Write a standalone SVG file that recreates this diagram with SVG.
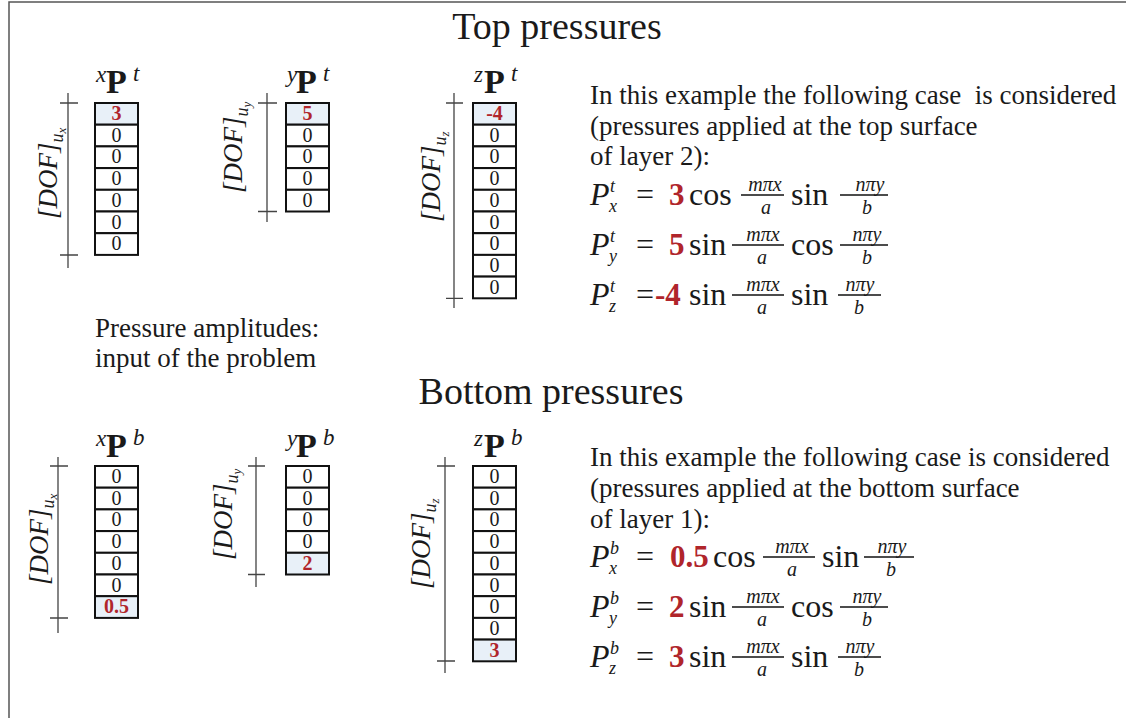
<svg xmlns="http://www.w3.org/2000/svg" width="1126" height="718" viewBox="0 0 1126 718">
<style>
.t{font-family:"Liberation Serif","Times New Roman",serif;fill:#1a1a1a}
.cell{fill:#fff;stroke:#111;stroke-width:2}
.hl{fill:#e8f0f8}
.cv{font-size:20px;text-anchor:middle}
.cvr{font-size:20px;font-weight:bold;fill:#b0252b;text-anchor:middle}
.ax{stroke:#444;stroke-width:1.3;fill:none}
.dof{font-size:27px;font-style:italic}
.dsub{font-size:18px}
.dsub2{font-size:13px}
.hP{font-size:34px;font-weight:bold}
.hs{font-size:23px;font-style:italic}
.body{font-size:27px}
.title{font-size:38px;text-anchor:middle}
.eqP{font-size:32px;font-style:italic}
.eqs{font-size:18px;font-style:italic}
.eq{font-size:32px}
.eqn{font-size:31px;font-weight:bold;fill:#b0252b}
.fr{font-size:20px;font-style:italic;text-anchor:middle}
.bar{stroke:#111;stroke-width:1.5}
.frame{stroke:#555;stroke-width:1.5;fill:none}
</style>
<path class="frame" d="M9,718 V2 H1126"/>
<text class="t title" x="557" y="39">Top pressures</text>
<text class="t title" x="551" y="404">Bottom pressures</text>
<text class="t body" x="95" y="337">Pressure amplitudes:</text>
<text class="t body" x="95" y="367">input of the problem</text>

<g id="connectors">
<path class="ax" d="M68,93V268M60,103H78M60,255H78"/>
<path class="ax" d="M267,93V222M258,103H277M258,211.5H277"/>
<path class="ax" d="M454,93V308M446,103H463M446,298.3H463"/>
<path class="ax" d="M58,457V633M50,466H68M50,618H68"/>
<path class="ax" d="M256,457V587M248,466H265M248,574.5H265"/>
<path class="ax" d="M445,457V673M437,466H455M437,661H455"/>
</g>

<g id="node-xPt">
<text class="t hs" x="96" y="82">x</text>
<text class="t hP" x="106" y="93">P</text>
<text class="t hs" x="133" y="81">t</text>
<text class="t dof" transform="translate(57,219) rotate(-90)">[DOF]<tspan class="dsub" dy="6">u</tspan><tspan class="dsub2" dy="3">x</tspan></text>
<rect class="cell hl" x="95" y="103" width="43" height="21.7"/>
<rect class="cell" x="95" y="124.7" width="43" height="21.7"/>
<rect class="cell" x="95" y="146.4" width="43" height="21.7"/>
<rect class="cell" x="95" y="168.1" width="43" height="21.7"/>
<rect class="cell" x="95" y="189.8" width="43" height="21.7"/>
<rect class="cell" x="95" y="211.5" width="43" height="21.7"/>
<rect class="cell" x="95" y="233.2" width="43" height="21.7"/>
<text class="t cvr" x="116.5" y="120">3</text>
<text class="t cv" x="116.5" y="141.7">0</text>
<text class="t cv" x="116.5" y="163.4">0</text>
<text class="t cv" x="116.5" y="185.1">0</text>
<text class="t cv" x="116.5" y="206.8">0</text>
<text class="t cv" x="116.5" y="228.5">0</text>
<text class="t cv" x="116.5" y="250.2">0</text>
</g>

<g id="node-yPt">
<text class="t hs" x="287" y="82">y</text>
<text class="t hP" x="296" y="93">P</text>
<text class="t hs" x="323" y="81">t</text>
<text class="t dof" transform="translate(242,193) rotate(-90)">[DOF]<tspan class="dsub" dy="6">u</tspan><tspan class="dsub2" dy="3">y</tspan></text>
<rect class="cell hl" x="286" y="103" width="43" height="21.7"/>
<rect class="cell" x="286" y="124.7" width="43" height="21.7"/>
<rect class="cell" x="286" y="146.4" width="43" height="21.7"/>
<rect class="cell" x="286" y="168.1" width="43" height="21.7"/>
<rect class="cell" x="286" y="189.8" width="43" height="21.7"/>
<text class="t cvr" x="307.5" y="120">5</text>
<text class="t cv" x="307.5" y="141.7">0</text>
<text class="t cv" x="307.5" y="163.4">0</text>
<text class="t cv" x="307.5" y="185.1">0</text>
<text class="t cv" x="307.5" y="206.8">0</text>
</g>

<g id="node-zPt">
<text class="t hs" x="474" y="82">z</text>
<text class="t hP" x="484" y="93">P</text>
<text class="t hs" x="511" y="81">t</text>
<text class="t dof" transform="translate(440,222) rotate(-90)">[DOF]<tspan class="dsub" dy="6">u</tspan><tspan class="dsub2" dy="3">z</tspan></text>
<rect class="cell hl" x="473" y="103" width="43" height="21.7"/>
<rect class="cell" x="473" y="124.7" width="43" height="21.7"/>
<rect class="cell" x="473" y="146.4" width="43" height="21.7"/>
<rect class="cell" x="473" y="168.1" width="43" height="21.7"/>
<rect class="cell" x="473" y="189.8" width="43" height="21.7"/>
<rect class="cell" x="473" y="211.5" width="43" height="21.7"/>
<rect class="cell" x="473" y="233.2" width="43" height="21.7"/>
<rect class="cell" x="473" y="254.9" width="43" height="21.7"/>
<rect class="cell" x="473" y="276.6" width="43" height="21.7"/>
<text class="t cvr" x="494.5" y="120">-4</text>
<text class="t cv" x="494.5" y="141.7">0</text>
<text class="t cv" x="494.5" y="163.4">0</text>
<text class="t cv" x="494.5" y="185.1">0</text>
<text class="t cv" x="494.5" y="206.8">0</text>
<text class="t cv" x="494.5" y="228.5">0</text>
<text class="t cv" x="494.5" y="250.2">0</text>
<text class="t cv" x="494.5" y="271.9">0</text>
<text class="t cv" x="494.5" y="293.6">0</text>
</g>

<g id="node-xPb">
<text class="t hs" x="96" y="446">x</text>
<text class="t hP" x="106" y="457">P</text>
<text class="t hs" x="133" y="445">b</text>
<text class="t dof" transform="translate(48,585) rotate(-90)">[DOF]<tspan class="dsub" dy="6">u</tspan><tspan class="dsub2" dy="3">x</tspan></text>
<rect class="cell" x="95" y="466" width="43" height="21.7"/>
<rect class="cell" x="95" y="487.7" width="43" height="21.7"/>
<rect class="cell" x="95" y="509.4" width="43" height="21.7"/>
<rect class="cell" x="95" y="531.1" width="43" height="21.7"/>
<rect class="cell" x="95" y="552.8" width="43" height="21.7"/>
<rect class="cell" x="95" y="574.5" width="43" height="21.7"/>
<rect class="cell hl" x="95" y="596.2" width="43" height="21.7"/>
<text class="t cv" x="116.5" y="483">0</text>
<text class="t cv" x="116.5" y="504.7">0</text>
<text class="t cv" x="116.5" y="526.4">0</text>
<text class="t cv" x="116.5" y="548.1">0</text>
<text class="t cv" x="116.5" y="569.8">0</text>
<text class="t cv" x="116.5" y="591.5">0</text>
<text class="t cvr" x="116.5" y="613.2">0.5</text>
</g>

<g id="node-yPb">
<text class="t hs" x="287" y="446">y</text>
<text class="t hP" x="296" y="457">P</text>
<text class="t hs" x="323" y="445">b</text>
<text class="t dof" transform="translate(232,560) rotate(-90)">[DOF]<tspan class="dsub" dy="6">u</tspan><tspan class="dsub2" dy="3">y</tspan></text>
<rect class="cell" x="286" y="466" width="43" height="21.7"/>
<rect class="cell" x="286" y="487.7" width="43" height="21.7"/>
<rect class="cell" x="286" y="509.4" width="43" height="21.7"/>
<rect class="cell" x="286" y="531.1" width="43" height="21.7"/>
<rect class="cell hl" x="286" y="552.8" width="43" height="21.7"/>
<text class="t cv" x="307.5" y="483">0</text>
<text class="t cv" x="307.5" y="504.7">0</text>
<text class="t cv" x="307.5" y="526.4">0</text>
<text class="t cv" x="307.5" y="548.1">0</text>
<text class="t cvr" x="307.5" y="569.8">2</text>
</g>

<g id="node-zPb">
<text class="t hs" x="474" y="446">z</text>
<text class="t hP" x="484" y="457">P</text>
<text class="t hs" x="511" y="445">b</text>
<text class="t dof" transform="translate(430,589) rotate(-90)">[DOF]<tspan class="dsub" dy="6">u</tspan><tspan class="dsub2" dy="3">z</tspan></text>
<rect class="cell" x="473" y="466" width="43" height="21.7"/>
<rect class="cell" x="473" y="487.7" width="43" height="21.7"/>
<rect class="cell" x="473" y="509.4" width="43" height="21.7"/>
<rect class="cell" x="473" y="531.1" width="43" height="21.7"/>
<rect class="cell" x="473" y="552.8" width="43" height="21.7"/>
<rect class="cell" x="473" y="574.5" width="43" height="21.7"/>
<rect class="cell" x="473" y="596.2" width="43" height="21.7"/>
<rect class="cell" x="473" y="617.9" width="43" height="21.7"/>
<rect class="cell hl" x="473" y="639.6" width="43" height="21.7"/>
<text class="t cv" x="494.5" y="483">0</text>
<text class="t cv" x="494.5" y="504.7">0</text>
<text class="t cv" x="494.5" y="526.4">0</text>
<text class="t cv" x="494.5" y="548.1">0</text>
<text class="t cv" x="494.5" y="569.8">0</text>
<text class="t cv" x="494.5" y="591.5">0</text>
<text class="t cv" x="494.5" y="613.2">0</text>
<text class="t cv" x="494.5" y="634.9">0</text>
<text class="t cvr" x="494.5" y="656.6">3</text>
</g>

<g id="node-top-text">
<text class="t body" x="590" y="104" xml:space="preserve">In this example the following case  is considered</text>
<text class="t body" x="590" y="135">(pressures applied at the top surface</text>
<text class="t body" x="590" y="165">of layer 2):</text>
<!-- eq 1 -->
<text class="t eqP" x="590" y="205">P</text>
<text class="t eqs" x="610" y="192">t</text>
<text class="t eqs" x="609" y="212">x</text>
<text class="t eq" x="636" y="205">=</text>
<text class="t eqn" x="669" y="205">3</text>
<text class="t eq" x="689" y="205">cos</text>
<line class="bar" x1="741" y1="195" x2="784" y2="195"/>
<text class="t fr" x="765" y="190.5">mπx</text>
<text class="t fr" x="766" y="213.5">a</text>
<text class="t eq" x="791" y="205">sin</text>
<line class="bar" x1="840" y1="195" x2="888" y2="195"/>
<text class="t fr" x="870" y="190.5">nπy</text>
<text class="t fr" x="867" y="214">b</text>
<!-- eq 2 -->
<text class="t eqP" x="590" y="255">P</text>
<text class="t eqs" x="610" y="242">t</text>
<text class="t eqs" x="609" y="262">y</text>
<text class="t eq" x="636" y="255">=</text>
<text class="t eqn" x="669" y="255">5</text>
<text class="t eq" x="689" y="255">sin</text>
<line class="bar" x1="732" y1="245" x2="784" y2="245"/>
<text class="t fr" x="763" y="240.5">mπx</text>
<text class="t fr" x="762" y="263.5">a</text>
<text class="t eq" x="791" y="255">cos</text>
<line class="bar" x1="840" y1="245" x2="888" y2="245"/>
<text class="t fr" x="867" y="240.5">nπy</text>
<text class="t fr" x="867" y="264">b</text>
<!-- eq 3 -->
<text class="t eqP" x="590" y="305">P</text>
<text class="t eqs" x="610" y="292">t</text>
<text class="t eqs" x="609" y="312">z</text>
<text class="t eq" x="636" y="305">=</text>
<text class="t eqn" x="655" y="305">-4</text>
<text class="t eq" x="689" y="305">sin</text>
<line class="bar" x1="732" y1="295" x2="784" y2="295"/>
<text class="t fr" x="763" y="290.5">mπx</text>
<text class="t fr" x="762" y="313.5">a</text>
<text class="t eq" x="791" y="305">sin</text>
<line class="bar" x1="838" y1="295" x2="881" y2="295"/>
<text class="t fr" x="860" y="290.5">nπy</text>
<text class="t fr" x="859" y="314">b</text>
</g>

<g id="node-bottom-text">
<text class="t body" x="590" y="466">In this example the following case is considered</text>
<text class="t body" x="590" y="497">(pressures applied at the bottom surface</text>
<text class="t body" x="590" y="528">of layer 1):</text>
<!-- eq 1 -->
<text class="t eqP" x="590" y="567">P</text>
<text class="t eqs" x="610" y="554">b</text>
<text class="t eqs" x="609" y="574">x</text>
<text class="t eq" x="636" y="567">=</text>
<text class="t eqn" x="670" y="567">0.5</text>
<text class="t eq" x="713" y="567">cos</text>
<line class="bar" x1="763" y1="557" x2="815" y2="557"/>
<text class="t fr" x="792" y="552.5">mπx</text>
<text class="t fr" x="792" y="575.5">a</text>
<text class="t eq" x="822" y="567">sin</text>
<line class="bar" x1="864" y1="557" x2="914" y2="557"/>
<text class="t fr" x="892" y="552.5">nπy</text>
<text class="t fr" x="891" y="576">b</text>
<!-- eq 2 -->
<text class="t eqP" x="590" y="617">P</text>
<text class="t eqs" x="610" y="604">b</text>
<text class="t eqs" x="609" y="624">y</text>
<text class="t eq" x="636" y="617">=</text>
<text class="t eqn" x="669" y="617">2</text>
<text class="t eq" x="689" y="617">sin</text>
<line class="bar" x1="732" y1="607" x2="784" y2="607"/>
<text class="t fr" x="763" y="602.5">mπx</text>
<text class="t fr" x="762" y="625.5">a</text>
<text class="t eq" x="791" y="617">cos</text>
<line class="bar" x1="840" y1="607" x2="888" y2="607"/>
<text class="t fr" x="867" y="602.5">nπy</text>
<text class="t fr" x="867" y="626">b</text>
<!-- eq 3 -->
<text class="t eqP" x="590" y="667">P</text>
<text class="t eqs" x="610" y="654">b</text>
<text class="t eqs" x="609" y="674">z</text>
<text class="t eq" x="636" y="667">=</text>
<text class="t eqn" x="669" y="667">3</text>
<text class="t eq" x="689" y="667">sin</text>
<line class="bar" x1="732" y1="657" x2="784" y2="657"/>
<text class="t fr" x="763" y="652.5">mπx</text>
<text class="t fr" x="762" y="675.5">a</text>
<text class="t eq" x="791" y="667">sin</text>
<line class="bar" x1="838" y1="657" x2="881" y2="657"/>
<text class="t fr" x="860" y="652.5">nπy</text>
<text class="t fr" x="859" y="676">b</text>
</g>
</svg>
